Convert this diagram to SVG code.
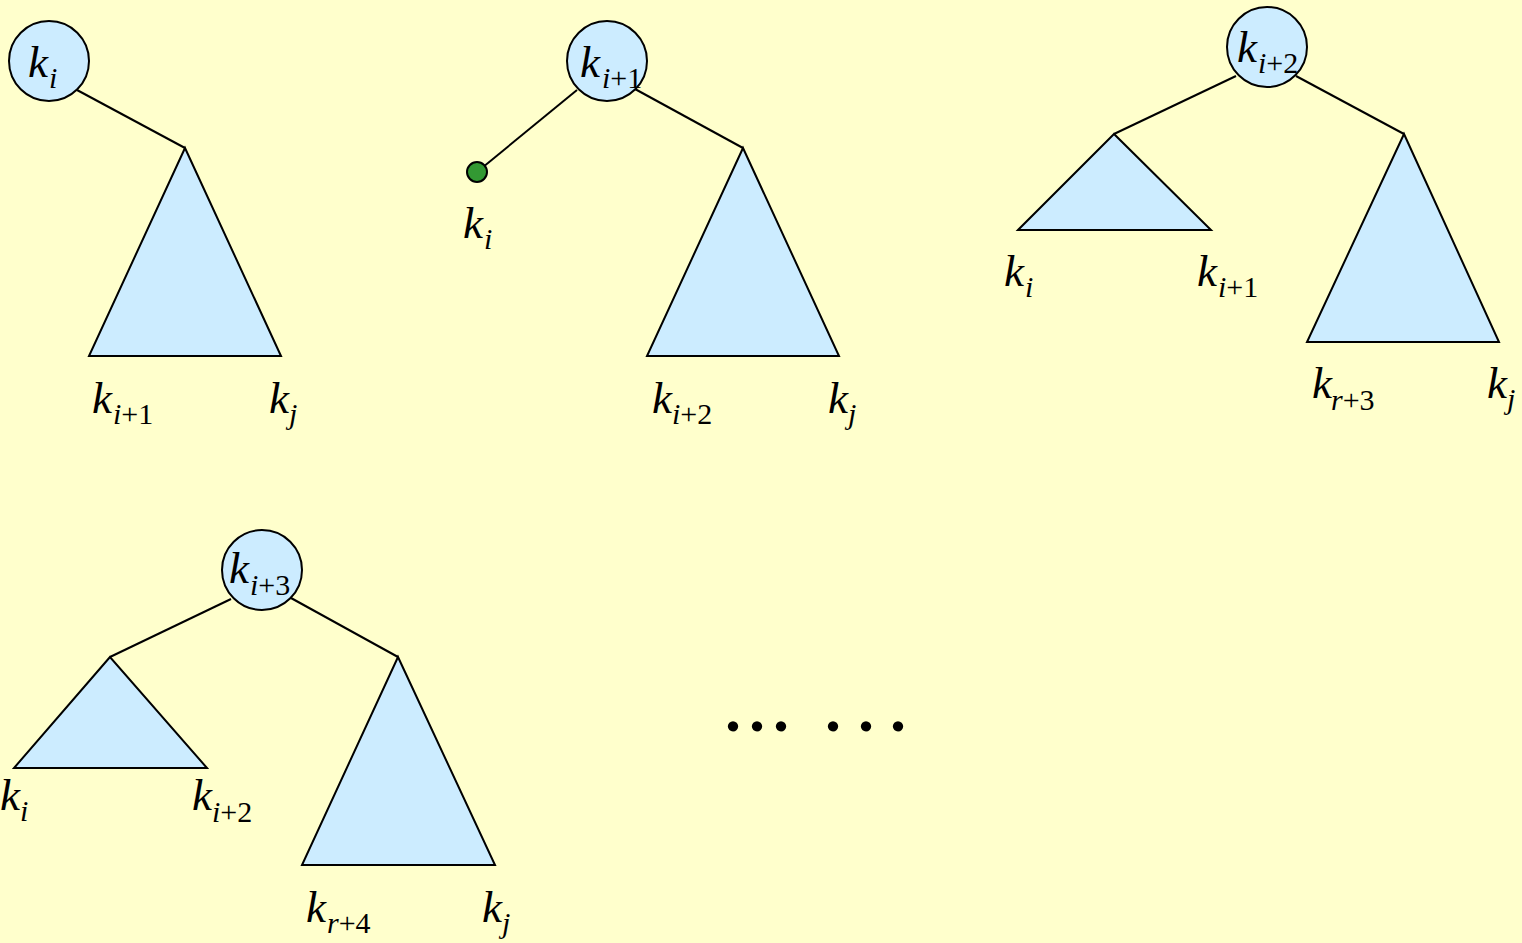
<svg xmlns="http://www.w3.org/2000/svg" width="1522" height="943" viewBox="0 0 1522 943" font-family="'Liberation Serif', 'DejaVu Serif', serif">
<style>
.bg{fill:#FFFFCC}
.nd{fill:#CCECFF;stroke:#000;stroke-width:2}
.tri{fill:#CCECFF;stroke:#000;stroke-width:2;stroke-linejoin:miter}
.ed{stroke:#000;stroke-width:2;fill:none}
.leaf{fill:#339933;stroke:#000;stroke-width:2}
.k{font-family:'Liberation Serif','Times New Roman','DejaVu Serif',serif;font-size:45px;font-style:italic;fill:#000}
.s{font-size:30px;font-style:italic}
.n{font-size:30px;font-style:normal}
.dots{font-family:'Liberation Serif','DejaVu Serif',serif;font-size:64px;font-weight:bold;fill:#000}
</style>
<rect class="bg" x="0" y="0" width="1522" height="943"/>
<g id="connectors">
<line class="ed" x1="77" y1="90" x2="185" y2="148"/>
<line class="ed" x1="577" y1="90" x2="477" y2="172"/>
<line class="ed" x1="635" y1="89" x2="743" y2="148"/>
<line class="ed" x1="1236" y1="76" x2="1114" y2="134"/>
<line class="ed" x1="1296" y1="76" x2="1404" y2="134"/>
<line class="ed" x1="231" y1="599" x2="110" y2="657"/>
<line class="ed" x1="291" y1="598" x2="398" y2="657"/>
</g>
<g id="tree1-root"><circle class="nd" cx="49" cy="61" r="40"/>
<text class="k" x="28" y="77">k<tspan class="s" x="49" dy="11">i</tspan></text></g>
<g id="tree1-sub"><polygon class="tri" points="185,148 89,356 281,356"/>
<text class="k" x="92" y="413">k<tspan class="s" x="113" dy="11">i</tspan><tspan class="n">+1</tspan></text>
<text class="k" x="269" y="413">k<tspan class="s" x="289" dy="11">j</tspan></text></g>

<g id="tree2-root"><circle class="nd" cx="607" cy="61" r="40"/>
<text class="k" x="580" y="77">k<tspan class="s" x="602" dy="11">i</tspan><tspan class="n">+1</tspan></text></g>
<g id="tree2-leaf"><circle class="leaf" cx="477" cy="172" r="10"/>
<text class="k" x="463" y="238">k<tspan class="s" x="484" dy="11">i</tspan></text></g>
<g id="tree2-sub"><polygon class="tri" points="743,148 647,356 839,356"/>
<text class="k" x="652" y="413">k<tspan class="s" x="672" dy="11">i</tspan><tspan class="n">+2</tspan></text>
<text class="k" x="828" y="413">k<tspan class="s" x="848" dy="11">j</tspan></text></g>

<g id="tree3-root"><circle class="nd" cx="1267" cy="47" r="40"/>
<text class="k" x="1237" y="62">k<tspan class="s" x="1258" dy="11">i</tspan><tspan class="n">+2</tspan></text></g>
<g id="tree3-left"><polygon class="tri" points="1114,134 1018,230 1211,230"/>
<text class="k" x="1004" y="286">k<tspan class="s" x="1025" dy="11">i</tspan></text>
<text class="k" x="1197" y="286">k<tspan class="s" x="1218" dy="11">i</tspan><tspan class="n">+1</tspan></text></g>
<g id="tree3-right"><polygon class="tri" points="1404,134 1307,342 1499,342"/>
<text class="k" x="1312" y="398">k<tspan class="s" x="1331" dy="12">r</tspan><tspan class="n">+3</tspan></text>
<text class="k" x="1487" y="398">k<tspan class="s" x="1507" dy="11">j</tspan></text></g>

<g id="tree4-root"><circle class="nd" cx="262" cy="570" r="40"/>
<text class="k" x="229" y="583">k<tspan class="s" x="250" dy="12">i</tspan><tspan class="n">+3</tspan></text></g>
<g id="tree4-left"><polygon class="tri" points="110,657 14,768 207,768"/>
<text class="k" x="0" y="810">k<tspan class="s" x="20" dy="11">i</tspan></text>
<text class="k" x="192" y="810">k<tspan class="s" x="212" dy="12">i</tspan><tspan class="n">+2</tspan></text></g>
<g id="tree4-right"><polygon class="tri" points="398,657 302,865 495,865"/>
<text class="k" x="306" y="922">k<tspan class="s" x="327" dy="11">r</tspan><tspan class="n">+4</tspan></text>
<text class="k" x="482" y="922">k<tspan class="s" x="502" dy="11">j</tspan></text></g>

<g id="ellipsis">
<text class="dots" x="725 749 773 825 858 890" y="731">......</text>
</g>
</svg>
